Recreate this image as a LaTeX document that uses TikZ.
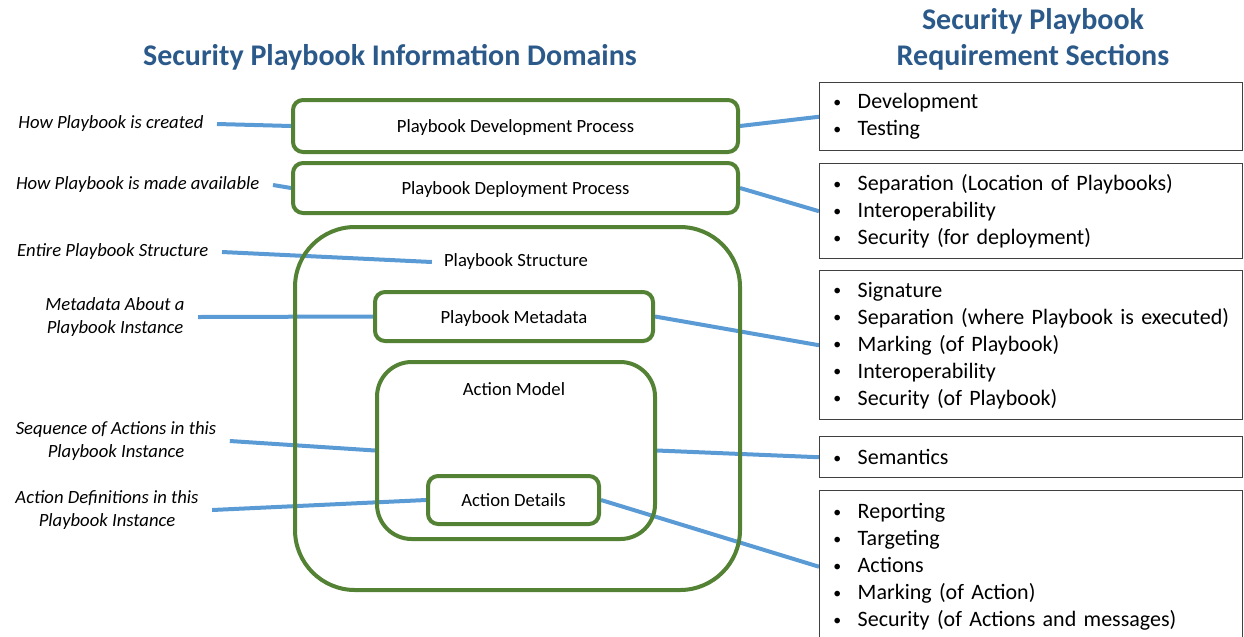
\documentclass[tikz,border=0pt]{standalone}
\usepackage{graphicx}
\usepackage{fontspec}
\setmainfont{Carlito}
\definecolor{grn}{HTML}{548235}
\definecolor{lblue}{HTML}{5B9BD5}
\definecolor{tblue}{HTML}{2B5A8A}
\definecolor{rgray}{HTML}{404040}
\pgfdeclarelayer{bg}
\pgfsetlayers{bg,main}
\newcommand{\itm}[1]{\makebox[18.75pt][l]{\hspace{0.5pt}\raisebox{0.12ex}{\scalebox{0.72}{\textbullet}}}#1}
\tikzset{
  gbox/.style={draw=grn, line width=3pt, rounded corners=7.5pt, inner sep=0pt,
    text height=12pt, text depth=2pt, font=\fontsize{14}{17}\selectfont},
  conn/.style={draw=lblue, line width=3pt},
  lab/.style={font=\fontsize{14}{17.2}\selectfont\itshape, align=center, inner xsep=10pt, inner ysep=2pt},
  plain/.style={font=\fontsize{14}{17}\selectfont, inner sep=2pt},
  rbox/.style={draw=rgray, line width=1.1pt, anchor=north west, align=left,
    inner xsep=9.75pt, inner ysep=0pt, minimum width=317.25pt, text width=297.75pt,
    font=\fontsize{16.5}{20.25}\selectfont},
  ttl/.style={font=\fontsize{22.5}{27}\selectfont\bfseries, text=tblue, align=center}
}
\begin{document}
\begin{tikzpicture}[x=0.75pt,y=-0.75pt]
\clip (0,0) rectangle (1244,636);
% titles
\node[ttl] (t1) at (390,57) {Security Playbook Information Domains};
\node[ttl] (t2) at (1033,39) {Security Playbook\\Requirement Sections};
% green boxes
\node[gbox, minimum width=333.75pt, minimum height=39pt] (b1) at (515.5,126) {Playbook Development Process};
\node[gbox, minimum width=333.75pt, minimum height=37.5pt] (b2) at (515.5,188) {Playbook Deployment Process};
\node[gbox, rounded corners=45pt, minimum width=333.75pt, minimum height=272.25pt, anchor=north west] (big) at (293,225) {};
\node[plain, inner xsep=9pt] (psl) at (516,262) {Playbook Structure};
\node[gbox, minimum width=208.5pt, minimum height=36.75pt] (meta) at (514,316.5) {Playbook Metadata};
\node[gbox, rounded corners=26pt, minimum width=208.5pt, minimum height=132.75pt, anchor=north west] (am) at (375,360) {};
\node[plain] (aml) at (514,389) {Action Model};
\node[gbox, minimum width=128.25pt, minimum height=36pt] (det) at (513.5,500) {Action Details};
% left labels
\node[lab, anchor=east] (l1) at (217,124) {How Playbook is created};
\node[lab, anchor=east] (l2) at (273,185) {How Playbook is made available};
\node[lab, anchor=east] (l3) at (222,252) {Entire Playbook Structure};
\node[lab] (l4) at (115,317) {Metadata About a\\Playbook Instance};
\node[lab] (l5) at (116,441) {Sequence of Actions in this\\Playbook Instance};
\node[lab] (l6) at (107,510) {Action Definitions in this\\Playbook Instance};
% right boxes
\node[rbox, minimum height=51pt] (r1) at (819,82) {\itm{Development}\\\itm{Testing}};
\node[rbox, minimum height=71.25pt] (r2) at (819,163) {\itm{Separation (Location of Playbooks)}\\\itm{Interoperability}\\\itm{Security (for deployment)}};
\node[rbox, minimum height=111.75pt] (r3) at (819,270) {\itm{Signature}\\\itm{Separation (where Playbook is executed)}\\\itm{Marking (of Playbook)}\\\itm{Interoperability}\\\itm{Security (of Playbook)}};
\node[rbox, minimum height=30.75pt] (r4) at (819,436) {\itm{Semantics}};
\node[rbox, minimum height=114pt] (r5) at (819,490) {\itm{Reporting}\\\itm{Targeting}\\\itm{Actions}\\\itm{Marking (of Action)}\\\itm{Security (of Actions and messages)}};
% connectors
\begin{pgfonlayer}{bg}
\draw[conn] (l1.east) -- (b1.west);
\draw[conn] (l2.east) -- (b2.west);
\draw[conn] (l3.east) -- (psl.west);
\draw[conn] (l4.east) -- (meta.west);
\draw[conn] (l5.east) -- (am.west);
\draw[conn] (l6.east) -- (det.west);
\draw[conn] (b1.east) -- (r1.west);
\draw[conn] (b2.east) -- (r2.west);
\draw[conn] (meta.east) -- (r3.west);
\draw[conn] (am.east) -- (r4.west);
\draw[conn] (det.east) -- (r5.west);
\end{pgfonlayer}
\end{tikzpicture}
\end{document}
